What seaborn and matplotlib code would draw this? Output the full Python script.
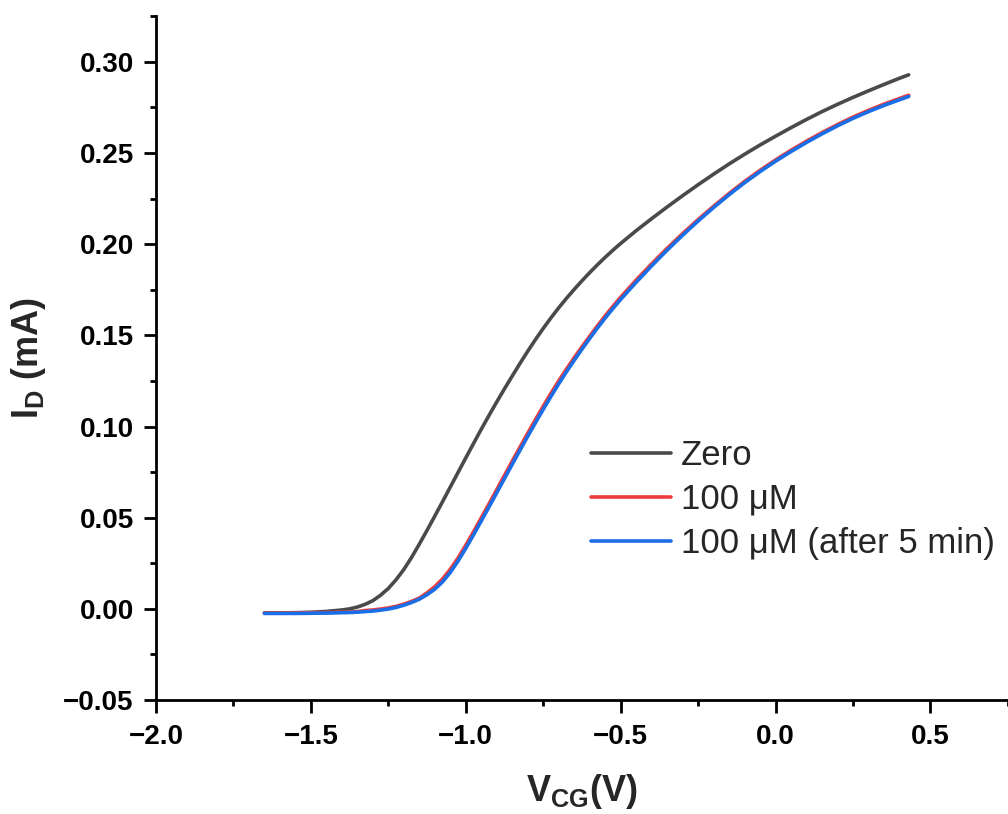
import numpy as np
import pandas as pd
import matplotlib
matplotlib.use("Agg")
import matplotlib.pyplot as plt
import seaborn as sns
from matplotlib.ticker import MultipleLocator

# gate voltage sweep (V)
v_cg = [-1.65, -1.60, -1.55, -1.50, -1.45,
        -1.425, -1.40, -1.375, -1.35, -1.325, -1.30, -1.275, -1.25, -1.225, -1.20,
        -1.175, -1.15, -1.125, -1.10, -1.075, -1.05, -1.025, -1.00, -0.975, -0.95,
        -0.925, -0.90, -0.875, -0.85, -0.825, -0.80, -0.775, -0.75, -0.725, -0.70,
        -0.675, -0.65, -0.625, -0.60, -0.575, -0.55, -0.525, -0.50,
        -0.45, -0.40, -0.35, -0.30, -0.25, -0.20, -0.15, -0.10, -0.05,
        0.00, 0.05, 0.10, 0.15, 0.20, 0.25, 0.30, 0.35, 0.40, 0.43]

# drain current (mA)
id_zero = [-0.0022, -0.0022, -0.0021, -0.0019, -0.0014,
           -0.0010, -0.0006, 0.0000, 0.0010, 0.0025, 0.0045, 0.0075, 0.0112, 0.0160, 0.0216,
           0.0282, 0.0355, 0.0431, 0.0509, 0.0588, 0.0668, 0.0748, 0.0828, 0.0907, 0.0985,
           0.1061, 0.1135, 0.1207, 0.1277, 0.1346, 0.1413, 0.1477, 0.1538, 0.1596, 0.1651,
           0.1703, 0.1752, 0.1799, 0.1844, 0.1887, 0.1928, 0.1967, 0.2004,
           0.2074, 0.2140, 0.2204, 0.2266, 0.2326, 0.2384, 0.2440, 0.2493, 0.2544,
           0.2592, 0.2639, 0.2684, 0.2727, 0.2767, 0.2805, 0.2841, 0.2876, 0.2910, 0.2929]

id_100 = [-0.0022, -0.0022, -0.0022, -0.0021, -0.0020,
          -0.0019, -0.0018, -0.0017, -0.0015, -0.0009, -0.0006, -0.0001, 0.0005, 0.0014, 0.0026,
          0.0041, 0.0059, 0.0088, 0.0122, 0.0164, 0.0217, 0.0279, 0.0349, 0.0423, 0.0499,
          0.0576, 0.0654, 0.0732, 0.0810, 0.0887, 0.0963, 0.1038, 0.1111, 0.1182, 0.1250,
          0.1315, 0.1377, 0.1437, 0.1495, 0.1552, 0.1607, 0.1659, 0.1709,
          0.1803, 0.1892, 0.1977, 0.2058, 0.2135, 0.2208, 0.2278, 0.2344, 0.2405,
          0.2462, 0.2515, 0.2565, 0.2612, 0.2656, 0.2697, 0.2734, 0.2768, 0.2799, 0.2817]

id_100_5min = [-0.0025, -0.0025, -0.0025, -0.0024, -0.0023,
               -0.0022, -0.0021, -0.0020, -0.0018, -0.0015, -0.0012, -0.0007, -0.0001, 0.0008, 0.0020,
               0.0035, 0.0053, 0.0078, 0.0108, 0.0148, 0.0200, 0.0262, 0.0332, 0.0406, 0.0482,
               0.0559, 0.0637, 0.0715, 0.0793, 0.0870, 0.0946, 0.1021, 0.1094, 0.1165, 0.1234,
               0.1300, 0.1363, 0.1424, 0.1483, 0.1540, 0.1595, 0.1647, 0.1697,
               0.1791, 0.1881, 0.1967, 0.2049, 0.2127, 0.2201, 0.2271, 0.2337, 0.2398,
               0.2455, 0.2508, 0.2558, 0.2605, 0.2649, 0.2690, 0.2727, 0.2761, 0.2792, 0.2810]

labels = ["Zero", "100 μM", "100 μM (after 5 min)"]
colors = ["#4a4a4a", "#ee3b3b", "#1a6ee6"]

df = pd.concat([
    pd.DataFrame({"V": v_cg, "I": vals, "sample": lab})
    for lab, vals in zip(labels, [id_zero, id_100, id_100_5min])
])

sns.set_theme(style="ticks")
plt.rcParams["font.family"] = ["Liberation Sans", "DejaVu Sans"]
plt.rcParams["mathtext.fontset"] = "custom"
plt.rcParams["mathtext.rm"] = "Liberation Sans"
plt.rcParams["mathtext.bf"] = "Liberation Sans:bold"

fig = plt.figure(figsize=(10.08, 8.14), dpi=100)
ax = fig.add_axes([0.1548, 0.140, 0.845, 0.840])

sns.lineplot(data=df, x="V", y="I", hue="sample", palette=colors,
             sort=False, estimator=None, linewidth=2.6, ax=ax)

ax.set_xlim(-2.0, 0.75)
ax.set_ylim(-0.05, 0.325)
ax.xaxis.set_minor_locator(MultipleLocator(0.25))
ax.yaxis.set_minor_locator(MultipleLocator(0.025))
ax.set_xticks([-2.0, -1.5, -1.0, -0.5, 0.0, 0.5])
ax.set_xticklabels(["\u22122.0", "\u22121.5", "\u22121.0", "\u22120.5", "0.0", "0.5"])
ax.set_yticks(np.arange(-0.05, 0.301, 0.05))
ax.set_yticklabels(["\u22120.05"] + [f"{v:.2f}" for v in np.arange(0.0, 0.301, 0.05)])

for s in ["top", "right"]:
    ax.spines[s].set_visible(False)
for s in ["left", "bottom"]:
    ax.spines[s].set_linewidth(2.0)
    ax.spines[s].set_color("black")

ax.tick_params(which="major", direction="out", length=9, width=2.0,
               labelsize=20, colors="black")
ax.tick_params(axis="x", which="major", pad=8)
ax.tick_params(axis="y", which="major", pad=7)
ax.tick_params(which="minor", direction="out", length=4.5, width=2.0, colors="black")
for t in ax.get_xticklabels() + ax.get_yticklabels():
    t.set_fontweight("bold")

ax.set_xlabel(r"$\mathbf{V_{CG}}$(V)", fontsize=26, fontweight="bold", labelpad=16)
ax.set_ylabel(r"$\mathbf{I_D}$ (mA)", fontsize=26, fontweight="bold", labelpad=11)

ax.legend(loc="upper left", bbox_to_anchor=(0.511, 0.382), frameon=False,
          fontsize=25, handlelength=2.3, handletextpad=0.29, labelspacing=0.32,
          borderaxespad=0, borderpad=0)

fig.savefig("out.png", dpi=100)
